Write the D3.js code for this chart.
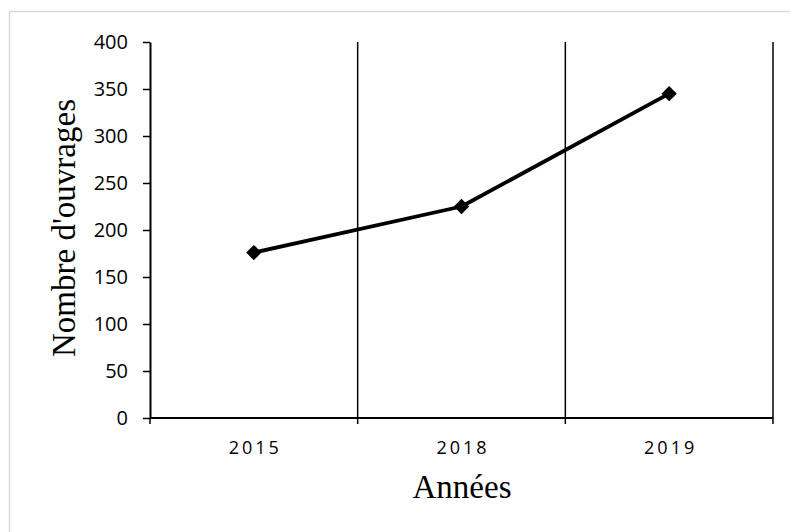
<!DOCTYPE html>
<html>
<head>
<meta charset="utf-8">
<script src="https://cdn.jsdelivr.net/npm/d3@7"></script>
<style>
  body { margin: 0; background: #fff; }
</style>
</head>
<body>
<svg id="chart" width="790" height="532"></svg>
<script>
// Data:
var years = ["2015", "2018", "2019"];
var ouvrages = [176, 225, 345];
var yTicks = [0, 50, 100, 150, 200, 250, 300, 350, 400];

var svg = d3.select("#chart");

// Layout (plot area edges):
var plotLeft = 150, plotRight = 773, plotTop = 42, plotBottom = 418;

// light frame around the chart area
svg.append("rect")
    .attr("x", 9.5).attr("y", 11.5)
    .attr("width", 800).attr("height", 540)
    .attr("fill", "none")
    .attr("stroke", "#d9d9d9")
    .attr("stroke-width", 1.5);

// Scaling:
var xScale = d3.scaleBand()
    .domain(years)
    .range([plotLeft, plotRight]);

var yScale = d3.scaleLinear()
    .domain([0, 400])
    .range([plotBottom, plotTop]);

// Vertical grid lines at category boundaries
var bounds = years.map(function (d) { return xScale(d) + xScale.bandwidth(); });
svg.selectAll(".vgrid")
    .data(bounds)
    .enter()
    .append("line")
    .attr("class", "vgrid")
    .attr("x1", function (d) { return d; })
    .attr("x2", function (d) { return d; })
    .attr("y1", plotTop)
    .attr("y2", plotBottom)
    .attr("stroke", "black")
    .attr("stroke-width", 1.5);

// y axis
var yAxis = svg.append("g")
    .attr("transform", "translate(" + plotLeft + ",0)")
    .call(d3.axisLeft(yScale).tickValues(yTicks).tickSize(7).tickSizeOuter(0).tickPadding(15));
yAxis.select(".domain").attr("stroke-width", 2);
yAxis.selectAll(".tick line").attr("stroke-width", 1.5);
yAxis.selectAll("text")
    .attr("font-family", "'Open Sans', sans-serif")
    .attr("font-size", 20)
    .attr("fill", "#000");

// x axis: ticks sit on category boundaries
var xAxis = svg.append("g")
    .attr("transform", "translate(0," + plotBottom + ")");
xAxis.append("line")
    .attr("x1", plotLeft).attr("x2", plotRight)
    .attr("stroke", "black").attr("stroke-width", 2);
xAxis.selectAll(".xtick")
    .data([plotLeft].concat(bounds))
    .enter()
    .append("line")
    .attr("x1", function (d) { return d; })
    .attr("x2", function (d) { return d; })
    .attr("y1", 0).attr("y2", 6)
    .attr("stroke", "black").attr("stroke-width", 1.5);
xAxis.selectAll(".xlab")
    .data(years)
    .enter()
    .append("text")
    .attr("x", function (d) { return xScale(d) + xScale.bandwidth() / 2 + 1.5; })
    .attr("y", 36)
    .attr("text-anchor", "middle")
    .attr("font-family", "'Open Sans', sans-serif")
    .attr("font-size", 18)
    .attr("letter-spacing", 3)
    .text(function (d) { return d; });

// Line
var line = d3.line()
    .x(function (d, i) { return xScale(years[i]) + xScale.bandwidth() / 2; })
    .y(function (d) { return yScale(d); });

svg.append("path")
    .datum(ouvrages)
    .attr("fill", "none")
    .attr("stroke", "black")
    .attr("stroke-width", 3.8)
    .attr("stroke-linejoin", "round")
    .attr("d", line);

// Diamond markers
svg.selectAll(".marker")
    .data(ouvrages)
    .enter()
    .append("path")
    .attr("class", "marker")
    .attr("d", d3.symbol().type(d3.symbolDiamond2).size(150))
    .attr("transform", function (d, i) {
        return "translate(" + (xScale(years[i]) + xScale.bandwidth() / 2) + "," + yScale(d) + ")";
    })
    .attr("fill", "black");

// Axis titles
svg.append("text")
    .attr("x", 462)
    .attr("y", 498)
    .attr("text-anchor", "middle")
    .attr("font-family", "'Liberation Serif', 'Times New Roman', serif")
    .attr("font-size", 33)
    .text("Années");

svg.append("text")
    .attr("transform", "translate(75,228) rotate(-90)")
    .attr("text-anchor", "middle")
    .attr("font-family", "'Liberation Serif', 'Times New Roman', serif")
    .attr("font-size", 33)
    .text("Nombre d'ouvrages");
</script>
</body>
</html>
